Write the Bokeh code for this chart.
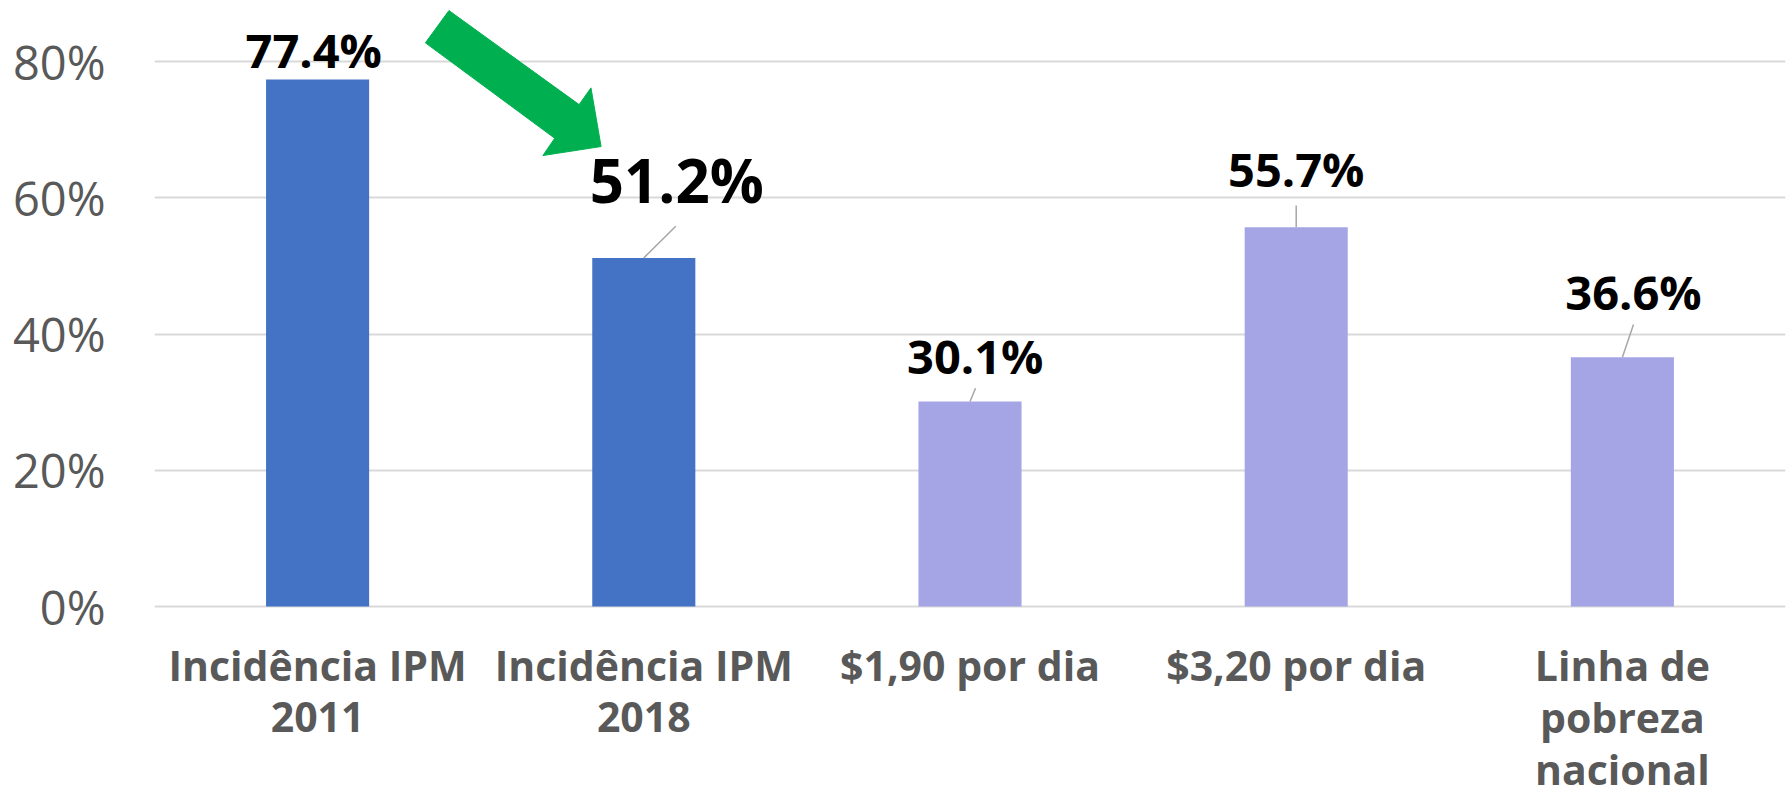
from bokeh.plotting import figure
from bokeh.models import ColumnDataSource, FixedTicker, PrintfTickFormatter, Range1d
from bokeh.core.properties import value
from bokeh.embed import file_html
from bokeh.resources import INLINE

# ---- data ----
categories = ["Incidência IPM\n2011", "Incidência IPM\n2018", "$1,90 por dia",
              "$3,20 por dia", "Linha de\npobreza\nnacional"]
values = [77.4, 51.2, 30.1, 55.7, 36.6]
y_ticks = [0, 20, 40, 60, 80]

# ---- styles / layout ----
bar_colors = ["#4472C4", "#4472C4", "#A5A5E6", "#A5A5E6", "#A5A5E6"]
label_sizes = ["47px", "60px", "47px", "47px", "47px"]
label_dx = [-0.012, 0.101, 0.016, 0.0, 0.034]      # category units
label_dy = [4.33, 11.5, 6.69, 8.55, 9.6]            # percent units (label centre)
leader_dx = [None, 0.098, 0.017, 0.0, 0.034]
leader_dy = [None, 4.64, 1.96, 3.18, 4.8]
cat_first_y = -8.52     # centre of first category-label line (percent units)
cat_pitch = 7.64        # line pitch of category labels (percent units)

W, H = 1787, 800
p = figure(width=W, height=H, output_backend="svg", toolbar_location=None,
           x_range=Range1d(-0.5, 4.5), y_range=Range1d(-28.49, 89),
           min_border_left=154, min_border_right=2, min_border_top=0,
           min_border_bottom=0)
p.outline_line_color = None
p.background_fill_color = "white"
p.border_fill_color = "white"

idx = list(range(len(values)))
src = ColumnDataSource(dict(x=idx, top=values, color=bar_colors))
p.vbar(x="x", top="top", width=0.316, bottom=0, fill_color="color",
       line_color=None, source=src)

# data labels
lx = [i + d for i, d in zip(idx, label_dx)]
ly = [v + d for v, d in zip(values, label_dy)]
ltxt = [f"{v:.1f}%" for v in values]
lsrc = ColumnDataSource(dict(x=lx, y=ly, text=ltxt, size=label_sizes))
p.text(x="x", y="y", text="text", source=lsrc, text_font=value("Open Sans"),
       text_font_style="bold", text_font_size="size", text_color="black",
       text_align="center", text_baseline="middle")

# leader lines
x0, y0, x1, y1 = [], [], [], []
for i, v, dx, dy in zip(idx, values, leader_dx, leader_dy):
    if dx is None:
        continue
    x0.append(i + dx); y0.append(v + dy); x1.append(i); y1.append(v)
p.segment(x0=x0, y0=y0, x1=x1, y1=y1, line_color="#A6A6A6", line_width=1.5)

# green arrow (decorative)
arrow_x = [0.4027, 0.8018, 0.838, 0.869, 0.6907, 0.7269, 0.3305]
arrow_y = [87.52, 73.71, 76.17, 67.55, 66.23, 68.77, 82.78]
p.patch(arrow_x, arrow_y, fill_color="#00B050", line_color="#00B050", line_width=1)

# y axis
p.yaxis.ticker = FixedTicker(ticks=y_ticks)
p.yaxis.formatter = PrintfTickFormatter(format="%d%%")
p.yaxis.axis_line_color = None
p.yaxis.major_tick_line_color = None
p.yaxis.minor_tick_line_color = None
p.yaxis.major_label_standoff = 43
p.yaxis.major_label_text_font = "Open Sans"
p.yaxis.major_label_text_font_size = "47px"
p.yaxis.major_label_text_color = "#595959"
p.xaxis.visible = False

p.xgrid.grid_line_color = None
p.ygrid.ticker = FixedTicker(ticks=y_ticks)
p.ygrid.grid_line_color = "#D9D9D9"
p.ygrid.grid_line_width = 2

# category labels below the zero line
cx, cy, ct = [], [], []
for i, c in zip(idx, categories):
    for k, line in enumerate(c.split("\n")):
        cx.append(i); cy.append(cat_first_y - k * cat_pitch); ct.append(line)
p.text(x=cx, y=cy, text=ct, text_font=value("Open Sans"), text_font_style="bold",
       text_font_size="41px", text_color="#595959", text_align="center",
       text_baseline="middle")

open("out.html", "w").write(file_html(p, INLINE))
